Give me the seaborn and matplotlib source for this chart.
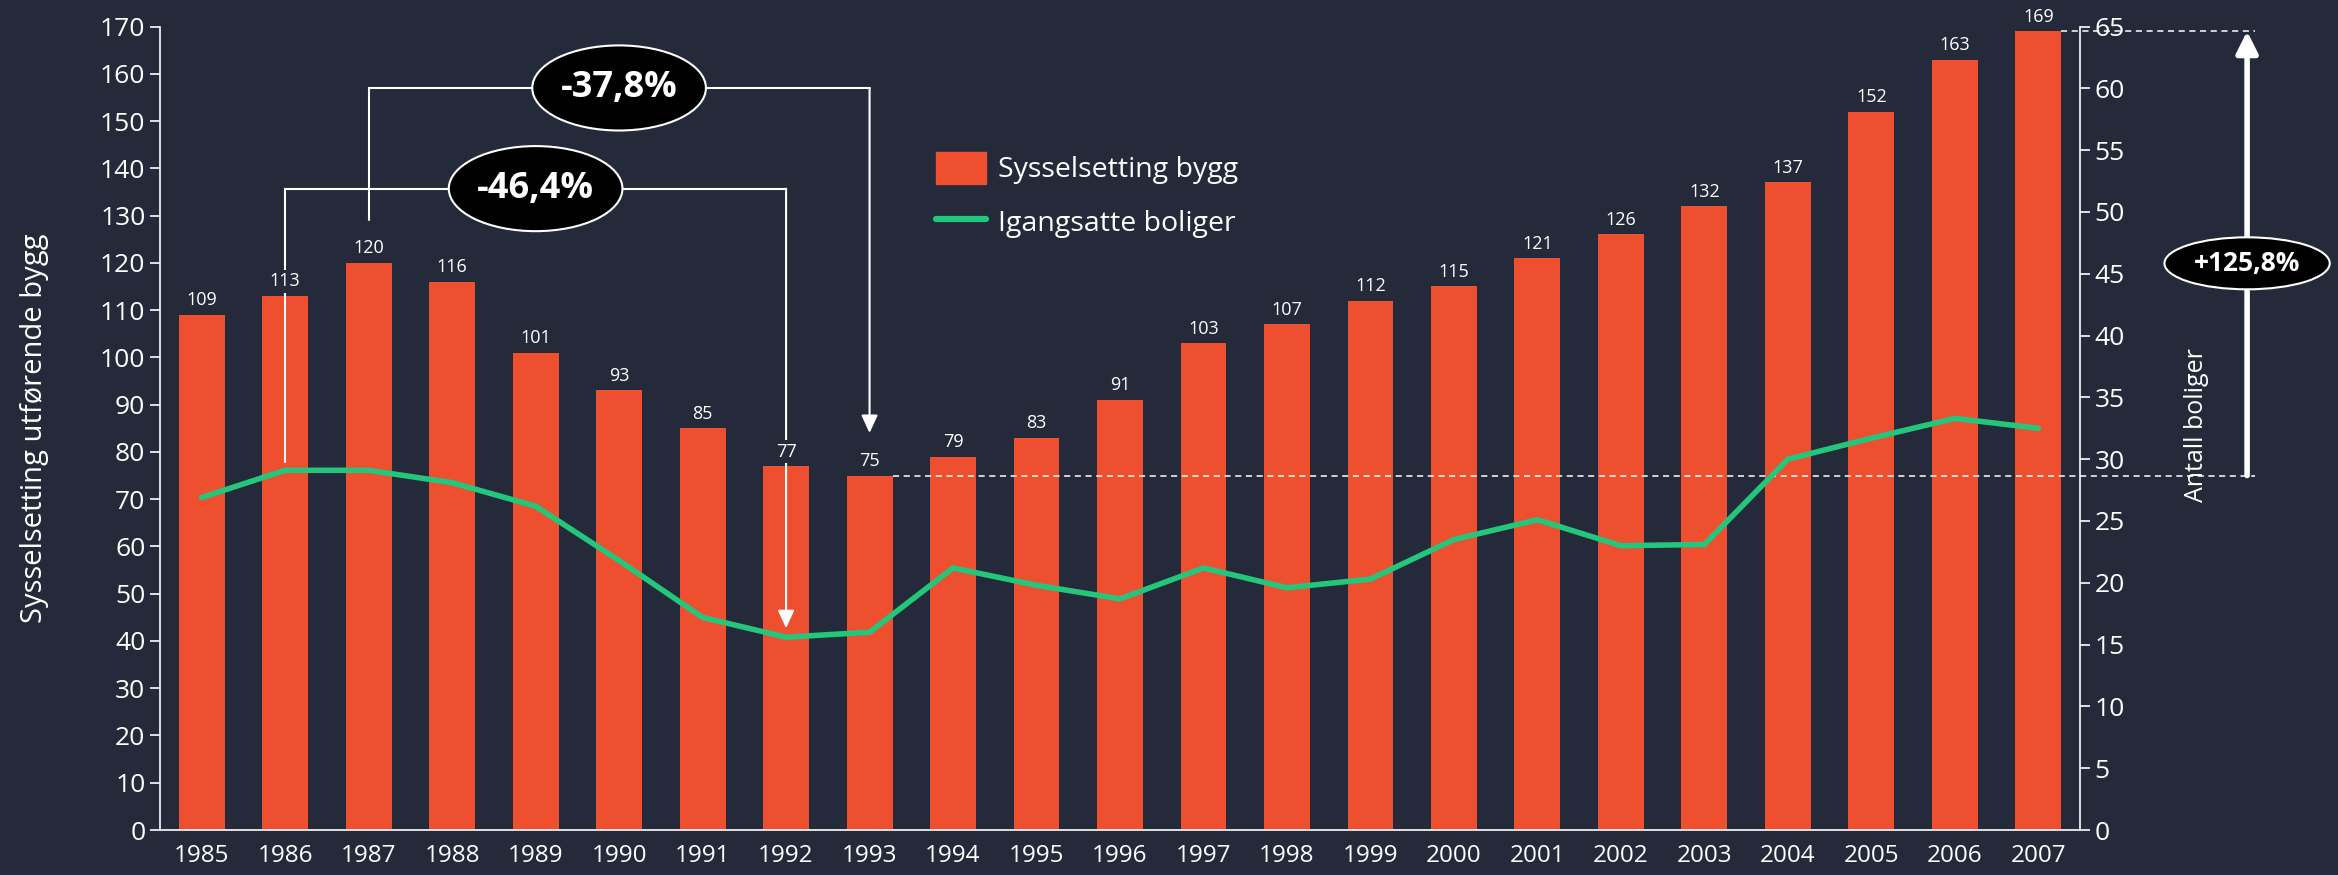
import numpy as np
import pandas as pd
import seaborn as sns
import matplotlib.pyplot as plt
from matplotlib.patches import Ellipse, FancyArrowPatch, Patch
from matplotlib.lines import Line2D

# --- data ---
years = [str(y) for y in range(1985, 2008)]
sysselsetting = [109, 113, 120, 116, 101, 93, 85, 77, 75, 79, 83, 91,
                 103, 107, 112, 115, 121, 126, 132, 137, 152, 163, 169]
igangsatte = [26.9, 29.1, 29.1, 28.1, 26.2, 21.8, 17.2, 15.6, 16.0, 21.2, 19.8, 18.7,
              21.2, 19.6, 20.3, 23.5, 25.1, 23.0, 23.1, 30.0, 31.7, 33.3, 32.5]

left_ticks = list(range(0, 171, 10))
right_ticks = list(range(0, 66, 5))

# annotation texts: (label, from year, to year)
drops = [("-46,4%", "1986", "1992"), ("-37,8%", "1987", "1993")]
growth_label = "+125,8%"
growth_from, growth_to = "1993", "2007"

bg = "#242A3A"
orange = "#EE4F2F"
green = "#23C67B"

sns.set_theme(style="ticks", rc={
    "axes.facecolor": bg,
    "figure.facecolor": bg,
    "axes.edgecolor": "white",
    "text.color": "white",
    "axes.labelcolor": "white",
    "xtick.color": "white",
    "ytick.color": "white",
})
plt.rcParams["font.family"] = ["Open Sans", "DejaVu Sans"]

df = pd.DataFrame({"year": years, "bygg": sysselsetting, "boliger": igangsatte})
df["pos"] = np.arange(len(df))

fig = plt.figure(figsize=(23.38, 8.75), dpi=100)
ax = fig.add_axes([0.0684, 0.0514, 0.8213, 0.9183])

sns.barplot(data=df, x="year", y="bygg", color=orange, saturation=1, width=0.55, ax=ax,
            zorder=1, edgecolor="none", linewidth=0)
ax.bar_label(ax.containers[0], labels=[str(v) for v in sysselsetting], padding=4,
             fontsize=13, color="white", zorder=3,
             bbox=dict(boxstyle="square,pad=0.15", fc=bg, ec="none"))

ax.set_xlim(-0.5, len(years) - 0.5)
ax.set_ylim(0, 170)
ax.set_yticks(left_ticks)
ax.set_xlabel("")
ax.set_ylabel("Sysselsetting utførende bygg", fontsize=21)
ax.yaxis.set_label_coords(-0.058, 0.5)
ax.tick_params(axis="y", length=7, width=1.2, labelsize=19)
ax.tick_params(axis="x", length=0, labelsize=17.5, pad=10)
for s in ["top", "right"]:
    ax.spines[s].set_visible(False)
for s in ["left", "bottom"]:
    ax.spines[s].set_linewidth(1.2)

ax2 = ax.twinx()
sns.lineplot(data=df, x="pos", y="boliger", color=green, lw=4, ax=ax2,
             solid_capstyle="round", solid_joinstyle="miter")
ax2.set_ylim(0, 65)
ax2.set_yticks(right_ticks)
ax2.set_xlim(-0.5, len(years) - 0.5)
ax2.set_ylabel("Antall boliger", fontsize=18)
ax2.yaxis.set_label_coords(1.054, 0.504)
ax2.tick_params(axis="y", length=7, width=1.2, labelsize=19)
for s in ["top", "left", "bottom"]:
    ax2.spines[s].set_visible(False)
ax2.spines["right"].set_linewidth(1.2)

# --- drop brackets ---
def bracket(label, y0, y1, start, top, end):
    i0, i1 = years.index(y0), years.index(y1)
    ax.plot([i0, i0, i1], [start, top, top], color="white", lw=1.5, zorder=2,
            solid_joinstyle="miter")
    ax.add_patch(FancyArrowPatch((i1, top), (i1, end),
                                 arrowstyle="-|>,head_length=10.8,head_width=5",
                                 mutation_scale=1, lw=1.5, color="white",
                                 shrinkA=0, shrinkB=0, zorder=2))
    cx = (i0 + i1) / 2
    ax.add_patch(Ellipse((cx, top), width=2.08, height=18, fc="black", ec="white",
                         lw=1.5, zorder=4))
    ax.text(cx, top, label, ha="center", va="center", fontsize=26,
            fontweight="bold", color="white", zorder=5)

bracket(drops[0][0], drops[0][1], drops[0][2], 77.8, 135.7, 42.7)
bracket(drops[1][0], drops[1][1], drops[1][2], 129, 157, 84)

# --- growth arrow on the right ---
g0, g1 = years.index(growth_from), years.index(growth_to)
v0, v1 = sysselsetting[g0], sysselsetting[g1]
x_arrow, x_end = 24.5, 24.6
ax.plot([g0 + 0.275, x_end], [v0, v0], color="white", lw=1.1, ls=(0, (4, 3)),
        zorder=2, clip_on=False)
ax.plot([g1 + 0.275, x_end], [v1, v1], color="white", lw=1.1, ls=(0, (4, 3)),
        zorder=2, clip_on=False)
ax.add_patch(FancyArrowPatch((x_arrow, v0), (x_arrow, v1),
                             arrowstyle="-|>,head_length=13,head_width=6.5",
                             mutation_scale=1, lw=4, color="white",
                             shrinkA=0, shrinkB=0, zorder=3, clip_on=False))
ax.add_patch(Ellipse((x_arrow, 119.9), width=1.98, height=11, fc="black", ec="white",
                     lw=1.5, zorder=4, clip_on=False))
ax.text(x_arrow, 119.9, growth_label, ha="center", va="center", fontsize=19,
        fontweight="bold", color="white", zorder=5, clip_on=False)

# --- legend ---
handles = [Patch(color=orange, label="Sysselsetting bygg"),
           Line2D([], [], color=green, lw=4.5, solid_capstyle="round",
                  label="Igangsatte boliger")]
ax2.legend(handles=handles, loc="upper left", bbox_to_anchor=(936 / 2338, 1 - 152 / 875),
           bbox_transform=fig.transFigure, frameon=False, fontsize=20.5,
           borderpad=0, borderaxespad=0, handlelength=1.75, handleheight=1.35,
           handletextpad=0.42, labelspacing=0.75, labelcolor="white")

fig.savefig("out.png", dpi=100, facecolor=bg)
